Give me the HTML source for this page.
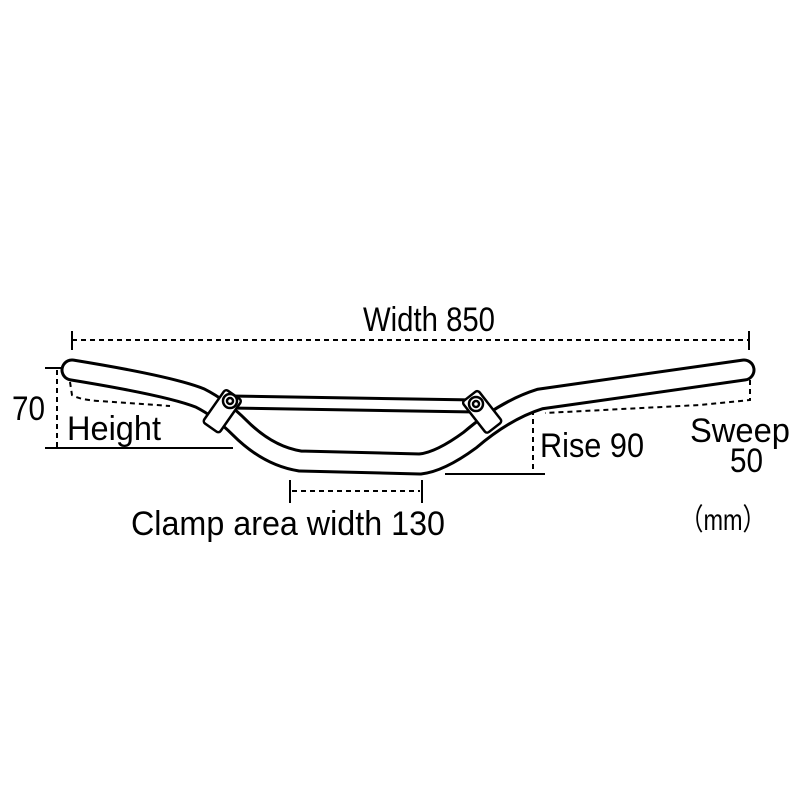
<!DOCTYPE html>
<html><head><meta charset="utf-8"><style>html,body{margin:0;padding:0;background:#fff}svg{display:block}</style></head>
<body>
<svg width="800" height="800" viewBox="0 0 800 800" xmlns="http://www.w3.org/2000/svg">
<rect width="800" height="800" fill="#fff"/>
<g fill="none" stroke="#000" stroke-width="2" stroke-dasharray="5,4">
  <line x1="72" y1="340" x2="749" y2="340"/>
  <line x1="57" y1="370" x2="57" y2="447"/>
  <path d="M70 382 L72 395 Q80 400 100 401 L170 406"/>
  <path d="M750 380 L750 400 L700 405 L545 413"/>
  <line x1="533" y1="410" x2="533" y2="473"/>
  <line x1="292" y1="491" x2="420" y2="491"/>
</g>
<g stroke="#000" stroke-width="2">
  <line x1="72" y1="331" x2="72" y2="350"/>
  <line x1="749" y1="331" x2="749" y2="350"/>
  <line x1="45" y1="368" x2="73" y2="368"/>
  <line x1="45" y1="448" x2="233" y2="448"/>
  <line x1="528" y1="408" x2="546" y2="408"/>
  <line x1="445" y1="474" x2="545" y2="474"/>
  <line x1="290" y1="480" x2="290" y2="503"/>
  <line x1="422" y1="480" x2="422" y2="503"/>
</g>
<!-- crossbar -->
<path d="M230 402 L476 406" stroke="#000" stroke-width="15" stroke-linecap="round" fill="none"/>
<path d="M230 402 L476 406" stroke="#fff" stroke-width="9" stroke-linecap="round" fill="none"/>
<!-- main bar -->
<path d="M72 370 Q170 386 200 398 Q220 408 240 428 Q268 456 300 461 L420 464 Q440 462 470 440 Q505 410 540 399 L744 370" stroke="#000" stroke-width="23" stroke-linecap="round" stroke-linejoin="round" fill="none"/>
<path d="M72 370 Q170 386 200 398 Q220 408 240 428 Q268 456 300 461 L420 464 Q440 462 470 440 Q505 410 540 399 L744 370" stroke="#fff" stroke-width="17" stroke-linecap="round" stroke-linejoin="round" fill="none"/>
<!-- clamps -->
<g stroke="#000" stroke-width="2.5" fill="#fff">
  <rect x="-10" y="-10" width="20" height="40" rx="3" transform="translate(228 403) rotate(35)"/>
  <circle cx="230" cy="401" r="7"/><circle cx="230" cy="401" r="3"/>
  <rect x="-10" y="-10" width="20" height="40" rx="3" transform="translate(476 404) rotate(-38)"/>
  <circle cx="476" cy="404" r="7"/><circle cx="476" cy="404" r="3"/>
</g>
<g font-family="'Liberation Sans Narrow','Liberation Sans','Noto Sans CJK JP',sans-serif" font-size="34" fill="#000">
  <text x="363" y="331" textLength="132" lengthAdjust="spacingAndGlyphs">Width 850</text>
  <text x="12" y="420" textLength="33" lengthAdjust="spacingAndGlyphs">70</text>
  <text x="67" y="440" textLength="94" lengthAdjust="spacingAndGlyphs">Height</text>
  <text x="540" y="457" textLength="104" lengthAdjust="spacingAndGlyphs">Rise 90</text>
  <text x="690" y="442" textLength="100" lengthAdjust="spacingAndGlyphs">Sweep</text>
  <text x="730" y="472" textLength="33" lengthAdjust="spacingAndGlyphs">50</text>
  <text x="131" y="535" textLength="314" lengthAdjust="spacingAndGlyphs">Clamp area width 130</text>
  <text x="680" y="530" font-size="30" textLength="86" lengthAdjust="spacingAndGlyphs">（mm）</text>
</g>
</svg>
</body></html>
